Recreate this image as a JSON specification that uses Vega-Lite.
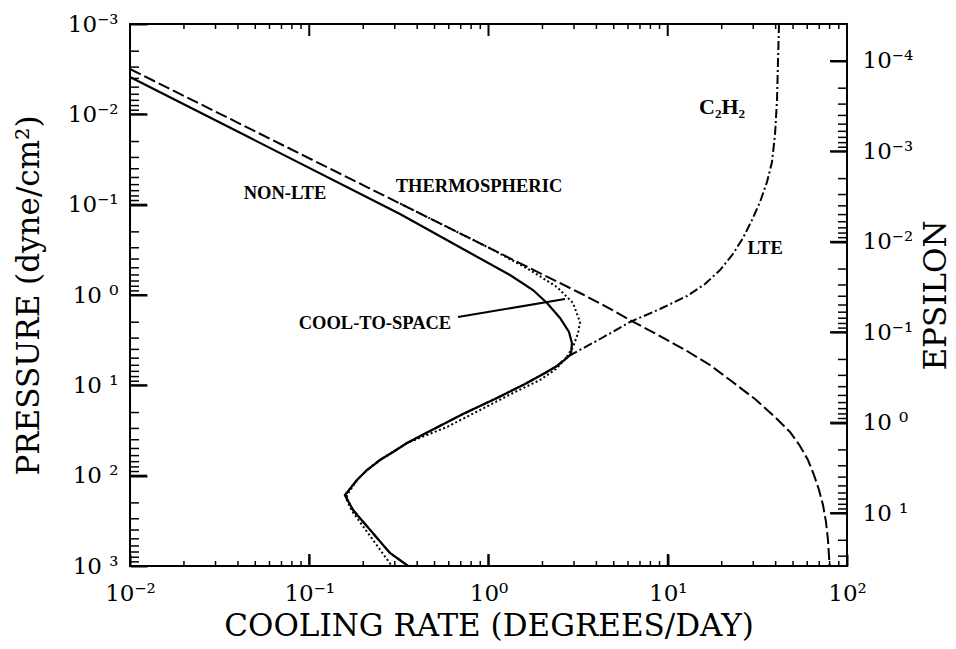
{
  "$schema": "https://vega.github.io/schema/vega-lite/v6.json",
  "width": 717,
  "height": 542,
  "autosize": {"type": "none"},
  "padding": {"left": 130, "top": 24, "right": 109, "bottom": 83},
  "background": "white",
  "config": {
    "view": {"stroke": "black", "strokeWidth": 2},
    "axis": {
      "zindex": 1,
      "labelFont": "DejaVu Serif", "labelFontSize": 23, "labelColor": "black",
      "titleFont": "DejaVu Serif", "titleFontSize": 31, "titleFontWeight": "normal", "titleColor": "black",
      "tickColor": "black", "tickOpacity": 1, "domain": false, "grid": false,
      "labelOverlap": false, "labelFlush": false, "labelBound": false
    }
  },
  "datasets": {
    "thermo": [
      {"x": 0.01, "p": 0.00315}, {"x": 0.0888, "p": 0.0273}, {"x": 1.159, "p": 0.3454},
      {"x": 3.24, "p": 0.9506}, {"x": 4.466, "p": 1.324}, {"x": 6.156, "p": 1.892},
      {"x": 8.822, "p": 2.773}, {"x": 12.81, "p": 4.17}, {"x": 17.2, "p": 5.958},
      {"x": 22.25, "p": 8.734}, {"x": 30.68, "p": 14.17}, {"x": 40.7, "p": 23.6},
      {"x": 48.08, "p": 32.87}, {"x": 54.67, "p": 46.96}, {"x": 60.59, "p": 67.09},
      {"x": 65.44, "p": 98.35}, {"x": 69.81, "p": 144.2}, {"x": 73.48, "p": 211.3},
      {"x": 76.36, "p": 326.0}, {"x": 78.34, "p": 515.8}, {"x": 79.36, "p": 775.1},
      {"x": 79.9, "p": 1000}
    ],
    "nonlte": [
      {"x": 0.01, "p": 0.00386}, {"x": 0.0467, "p": 0.0182}, {"x": 0.3208, "p": 0.1269},
      {"x": 0.7207, "p": 0.3097}, {"x": 1.318, "p": 0.6009}, {"x": 1.771, "p": 0.881},
      {"x": 2.12, "p": 1.227}, {"x": 2.506, "p": 1.798}, {"x": 2.812, "p": 2.569},
      {"x": 2.92, "p": 3.4}, {"x": 2.886, "p": 4.51}, {"x": 2.74, "p": 4.98},
      {"x": 2.41, "p": 6.11}, {"x": 2.066, "p": 7.31}, {"x": 1.598, "p": 9.67},
      {"x": 1.115, "p": 13.81}, {"x": 0.7206, "p": 20.8}, {"x": 0.4718, "p": 32.0},
      {"x": 0.351, "p": 43.5}, {"x": 0.2932, "p": 54.7}, {"x": 0.2481, "p": 67.1},
      {"x": 0.21, "p": 86.6}, {"x": 0.1846, "p": 111.7}, {"x": 0.1582, "p": 163.7},
      {"x": 0.1754, "p": 240}, {"x": 0.282, "p": 718}, {"x": 0.356, "p": 1000}
    ],
    "cts": [
      {"x": 0.321, "p": 0.0971}, {"x": 1.019, "p": 0.304}, {"x": 1.704, "p": 0.529},
      {"x": 2.41, "p": 0.816}, {"x": 2.96, "p": 1.227}, {"x": 3.24, "p": 1.99},
      {"x": 3.16, "p": 2.64}, {"x": 2.96, "p": 3.77}, {"x": 2.706, "p": 4.98},
      {"x": 2.38, "p": 6.6}, {"x": 1.938, "p": 8.73}, {"x": 1.37, "p": 12.16},
      {"x": 0.8966, "p": 18.76}, {"x": 0.5869, "p": 28.9}, {"x": 0.351, "p": 43.5},
      {"x": 0.2932, "p": 54.7}, {"x": 0.2481, "p": 67.1}, {"x": 0.21, "p": 86.6},
      {"x": 0.1846, "p": 111.7}, {"x": 0.1624, "p": 164}, {"x": 0.162, "p": 186},
      {"x": 0.173, "p": 246}, {"x": 0.289, "p": 1000}
    ],
    "lte": [
      {"x": 41.76, "p": 0.001}, {"x": 41.23, "p": 0.002504}, {"x": 40.7, "p": 0.00694},
      {"x": 39.65, "p": 0.01694}, {"x": 38.15, "p": 0.0337}, {"x": 35.78, "p": 0.0561},
      {"x": 32.71, "p": 0.0935}, {"x": 29.51, "p": 0.1478}, {"x": 26.29, "p": 0.2339},
      {"x": 23.12, "p": 0.3517}, {"x": 19.57, "p": 0.529}, {"x": 16.14, "p": 0.7555},
      {"x": 12.81, "p": 1.026}, {"x": 9.05, "p": 1.429}, {"x": 6.156, "p": 1.991},
      {"x": 4.19, "p": 3.07}, {"x": 2.74, "p": 4.86}, {"x": 2.41, "p": 6.11},
      {"x": 2.066, "p": 7.31}, {"x": 1.598, "p": 9.67}, {"x": 1.115, "p": 13.81},
      {"x": 0.7206, "p": 20.8}, {"x": 0.4718, "p": 32.0}, {"x": 0.351, "p": 43.5},
      {"x": 0.2932, "p": 54.7}, {"x": 0.2481, "p": 67.1}, {"x": 0.21, "p": 86.6},
      {"x": 0.1846, "p": 111.7}, {"x": 0.1582, "p": 163.7}, {"x": 0.1754, "p": 240},
      {"x": 0.282, "p": 718}, {"x": 0.356, "p": 1000}
    ],
    "leader": [
      {"x": 0.676, "p": 1.753}, {"x": 2.672, "p": 1.108}
    ],
    "labels": [
      {"x": 0.0732, "p": 0.0743, "t": "NON-LTE"},
      {"x": 0.885, "p": 0.0621, "t": "THERMOSPHERIC"},
      {"x": 0.2326, "p": 2.04, "t": "COOL-TO-SPACE"},
      {"x": 34.9, "p": 0.302, "t": "LTE"}
    ],
    "species": [
      {"x": 20.1, "p": 0.0083, "t": "C₂H₂"}
    ],
    "eps": [{"eps": 0.0001}, {"eps": 10}],
    "xt": [
      {"v": 0.01, "major": true}, {"v": 0.02, "major": false}, {"v": 0.03, "major": false}, {"v": 0.04, "major": false}, {"v": 0.05, "major": false}, {"v": 0.06, "major": false}, {"v": 0.07, "major": false}, {"v": 0.08, "major": false}, {"v": 0.09, "major": false},
      {"v": 0.1, "major": true}, {"v": 0.2, "major": false}, {"v": 0.3, "major": false}, {"v": 0.4, "major": false}, {"v": 0.5, "major": false}, {"v": 0.6, "major": false}, {"v": 0.7, "major": false}, {"v": 0.8, "major": false}, {"v": 0.9, "major": false},
      {"v": 1, "major": true}, {"v": 2, "major": false}, {"v": 3, "major": false}, {"v": 4, "major": false}, {"v": 5, "major": false}, {"v": 6, "major": false}, {"v": 7, "major": false}, {"v": 8, "major": false}, {"v": 9, "major": false},
      {"v": 10, "major": true}, {"v": 20, "major": false}, {"v": 30, "major": false}, {"v": 40, "major": false}, {"v": 50, "major": false}, {"v": 60, "major": false}, {"v": 70, "major": false}, {"v": 80, "major": false}, {"v": 90, "major": false},
      {"v": 100, "major": true}
    ],
    "yt": [
      {"v": 0.001, "major": true}, {"v": 0.002, "major": false}, {"v": 0.003, "major": false}, {"v": 0.004, "major": false}, {"v": 0.005, "major": false}, {"v": 0.006, "major": false}, {"v": 0.007, "major": false}, {"v": 0.008, "major": false}, {"v": 0.009, "major": false},
      {"v": 0.01, "major": true}, {"v": 0.02, "major": false}, {"v": 0.03, "major": false}, {"v": 0.04, "major": false}, {"v": 0.05, "major": false}, {"v": 0.06, "major": false}, {"v": 0.07, "major": false}, {"v": 0.08, "major": false}, {"v": 0.09, "major": false},
      {"v": 0.1, "major": true}, {"v": 0.2, "major": false}, {"v": 0.3, "major": false}, {"v": 0.4, "major": false}, {"v": 0.5, "major": false}, {"v": 0.6, "major": false}, {"v": 0.7, "major": false}, {"v": 0.8, "major": false}, {"v": 0.9, "major": false},
      {"v": 1, "major": true}, {"v": 2, "major": false}, {"v": 3, "major": false}, {"v": 4, "major": false}, {"v": 5, "major": false}, {"v": 6, "major": false}, {"v": 7, "major": false}, {"v": 8, "major": false}, {"v": 9, "major": false},
      {"v": 10, "major": true}, {"v": 20, "major": false}, {"v": 30, "major": false}, {"v": 40, "major": false}, {"v": 50, "major": false}, {"v": 60, "major": false}, {"v": 70, "major": false}, {"v": 80, "major": false}, {"v": 90, "major": false},
      {"v": 100, "major": true}, {"v": 200, "major": false}, {"v": 300, "major": false}, {"v": 400, "major": false}, {"v": 500, "major": false}, {"v": 600, "major": false}, {"v": 700, "major": false}, {"v": 800, "major": false}, {"v": 900, "major": false},
      {"v": 1000, "major": true}
    ],
    "et": [
      {"v": 0.0001, "major": true}, {"v": 0.0002, "major": false}, {"v": 0.0003, "major": false}, {"v": 0.0004, "major": false}, {"v": 0.0005, "major": false}, {"v": 0.0006, "major": false}, {"v": 0.0007, "major": false}, {"v": 0.0008, "major": false}, {"v": 0.0009, "major": false},
      {"v": 0.001, "major": true}, {"v": 0.002, "major": false}, {"v": 0.003, "major": false}, {"v": 0.004, "major": false}, {"v": 0.005, "major": false}, {"v": 0.006, "major": false}, {"v": 0.007, "major": false}, {"v": 0.008, "major": false}, {"v": 0.009, "major": false},
      {"v": 0.01, "major": true}, {"v": 0.02, "major": false}, {"v": 0.03, "major": false}, {"v": 0.04, "major": false}, {"v": 0.05, "major": false}, {"v": 0.06, "major": false}, {"v": 0.07, "major": false}, {"v": 0.08, "major": false}, {"v": 0.09, "major": false},
      {"v": 0.1, "major": true}, {"v": 0.2, "major": false}, {"v": 0.3, "major": false}, {"v": 0.4, "major": false}, {"v": 0.5, "major": false}, {"v": 0.6, "major": false}, {"v": 0.7, "major": false}, {"v": 0.8, "major": false}, {"v": 0.9, "major": false},
      {"v": 1, "major": true}, {"v": 2, "major": false}, {"v": 3, "major": false}, {"v": 4, "major": false}, {"v": 5, "major": false}, {"v": 6, "major": false}, {"v": 7, "major": false}, {"v": 8, "major": false}, {"v": 9, "major": false},
      {"v": 10, "major": true}, {"v": 20, "major": false}, {"v": 30, "major": false}
    ]
  },
  "resolve": {
    "scale": {"x": "independent", "y": "independent"},
    "axis": {"x": "independent", "y": "independent"}
  },
  "layer": [
    {
      "data": {"name": "thermo"},
      "mark": {"type": "line", "color": "black", "strokeWidth": 2, "strokeDash": [12, 4], "clip": true},
      "encoding": {
        "x": {"field": "x", "type": "quantitative",
          "scale": {"type": "log", "domain": [0.01, 100], "nice": false},
          "axis": {"orient": "bottom", "values": [0.01, 0.1, 1, 10, 100], "ticks": true, "offset": -12, "tickSize": 12, "tickWidth": 2, "labelPadding": 16,
            "labelExpr": "datum.value < 0.05 ? '10⁻²' : datum.value < 0.5 ? '10⁻¹' : datum.value < 5 ? '10⁰' : datum.value < 50 ? '10¹' : '10²'",
            "title": "COOLING RATE (DEGREES/DAY)", "titlePadding": 6}},
        "y": {"field": "p", "type": "quantitative",
          "scale": {"type": "log", "domain": [0.001, 1000], "nice": false, "reverse": true},
          "axis": {"orient": "left", "values": [0.001, 0.01, 0.1, 1, 10, 100, 1000], "ticks": true, "offset": -17, "tickSize": 17, "tickWidth": 2, "labelPadding": 12,
            "labelExpr": "datum.value < 0.005 ? '10⁻³' : datum.value < 0.05 ? '10⁻²' : datum.value < 0.5 ? '10⁻¹' : datum.value < 5 ? '10 ⁰' : datum.value < 50 ? '10 ¹' : datum.value < 500 ? '10 ²' : '10 ³'",
            "title": "PRESSURE (dyne/cm²)", "titlePadding": 22}},
        "order": {"field": "p", "type": "quantitative"}
      }
    },
    {
      "data": {"name": "nonlte"},
      "mark": {"type": "line", "color": "black", "strokeWidth": 2.2, "clip": true},
      "encoding": {
        "x": {"field": "x", "type": "quantitative",
          "scale": {"type": "log", "domain": [0.01, 100], "nice": false}, "axis": null},
        "y": {"field": "p", "type": "quantitative",
          "scale": {"type": "log", "domain": [0.001, 1000], "nice": false, "reverse": true}, "axis": null},
        "order": {"field": "p", "type": "quantitative"}
      }
    },
    {
      "data": {"name": "cts"},
      "mark": {"type": "line", "color": "black", "strokeWidth": 2, "strokeDash": [2, 2.5], "clip": true},
      "encoding": {
        "x": {"field": "x", "type": "quantitative",
          "scale": {"type": "log", "domain": [0.01, 100], "nice": false}, "axis": null},
        "y": {"field": "p", "type": "quantitative",
          "scale": {"type": "log", "domain": [0.001, 1000], "nice": false, "reverse": true}, "axis": null},
        "order": {"field": "p", "type": "quantitative"}
      }
    },
    {
      "data": {"name": "lte"},
      "mark": {"type": "line", "color": "black", "strokeWidth": 2, "strokeDash": [9, 3, 2, 3], "clip": true},
      "encoding": {
        "x": {"field": "x", "type": "quantitative",
          "scale": {"type": "log", "domain": [0.01, 100], "nice": false}, "axis": null},
        "y": {"field": "p", "type": "quantitative",
          "scale": {"type": "log", "domain": [0.001, 1000], "nice": false, "reverse": true}, "axis": null},
        "order": {"field": "p", "type": "quantitative"}
      }
    },
    {
      "data": {"name": "leader"},
      "mark": {"type": "line", "color": "black", "strokeWidth": 2, "clip": true},
      "encoding": {
        "x": {"field": "x", "type": "quantitative",
          "scale": {"type": "log", "domain": [0.01, 100], "nice": false}, "axis": null},
        "y": {"field": "p", "type": "quantitative",
          "scale": {"type": "log", "domain": [0.001, 1000], "nice": false, "reverse": true}, "axis": null}
      }
    },
    {
      "data": {"name": "labels"},
      "mark": {"type": "text", "font": "Liberation Serif", "fontWeight": "bold", "fontSize": 18.5, "color": "black", "align": "center", "baseline": "middle"},
      "encoding": {
        "x": {"field": "x", "type": "quantitative",
          "scale": {"type": "log", "domain": [0.01, 100], "nice": false}, "axis": null},
        "y": {"field": "p", "type": "quantitative",
          "scale": {"type": "log", "domain": [0.001, 1000], "nice": false, "reverse": true}, "axis": null},
        "text": {"field": "t"}
      }
    },
    {
      "data": {"name": "species"},
      "mark": {"type": "text", "font": "Liberation Serif", "fontWeight": "bold", "fontSize": 22, "color": "black", "align": "center", "baseline": "middle"},
      "encoding": {
        "x": {"field": "x", "type": "quantitative",
          "scale": {"type": "log", "domain": [0.01, 100], "nice": false}, "axis": null},
        "y": {"field": "p", "type": "quantitative",
          "scale": {"type": "log", "domain": [0.001, 1000], "nice": false, "reverse": true}, "axis": null},
        "text": {"field": "t"}
      }
    },
    {
      "data": {"name": "xt"},
      "transform": [{"filter": "datum.major"}],
      "mark": {"type": "rule", "color": "black", "strokeWidth": 2, "opacity": 1, "strokeOpacity": 1},
      "encoding": {
        "x": {"field": "v", "type": "quantitative", "scale": {"type": "log", "domain": [0.01, 100], "nice": false}, "axis": null},
        "y": {"datum": 1000, "type": "quantitative", "scale": {"type": "log", "domain": [0.001, 1000], "nice": false, "reverse": true}, "axis": null},
        "y2": {"datum": 736.5}
      }
    },
    {
      "data": {"name": "xt"},
      "transform": [{"filter": "!datum.major"}],
      "mark": {"type": "rule", "color": "black", "strokeWidth": 1.5, "opacity": 1, "strokeOpacity": 1},
      "encoding": {
        "x": {"field": "v", "type": "quantitative", "scale": {"type": "log", "domain": [0.01, 100], "nice": false}, "axis": null},
        "y": {"datum": 1000, "type": "quantitative", "scale": {"type": "log", "domain": [0.001, 1000], "nice": false, "reverse": true}, "axis": null},
        "y2": {"datum": 880.5}
      }
    },
    {
      "data": {"name": "xt"},
      "transform": [{"filter": "datum.major"}],
      "mark": {"type": "rule", "color": "black", "strokeWidth": 2, "opacity": 1, "strokeOpacity": 1},
      "encoding": {
        "x": {"field": "v", "type": "quantitative", "scale": {"type": "log", "domain": [0.01, 100], "nice": false}, "axis": null},
        "y": {"datum": 0.001, "type": "quantitative", "scale": {"type": "log", "domain": [0.001, 1000], "nice": false, "reverse": true}, "axis": null},
        "y2": {"datum": 0.001358}
      }
    },
    {
      "data": {"name": "xt"},
      "transform": [{"filter": "!datum.major"}],
      "mark": {"type": "rule", "color": "black", "strokeWidth": 1.5, "opacity": 1, "strokeOpacity": 1},
      "encoding": {
        "x": {"field": "v", "type": "quantitative", "scale": {"type": "log", "domain": [0.01, 100], "nice": false}, "axis": null},
        "y": {"datum": 0.001, "type": "quantitative", "scale": {"type": "log", "domain": [0.001, 1000], "nice": false, "reverse": true}, "axis": null},
        "y2": {"datum": 0.001136}
      }
    },
    {
      "data": {"name": "yt"},
      "transform": [{"filter": "datum.major"}],
      "mark": {"type": "rule", "color": "black", "strokeWidth": 2, "opacity": 1, "strokeOpacity": 1},
      "encoding": {
        "y": {"field": "v", "type": "quantitative", "scale": {"type": "log", "domain": [0.001, 1000], "nice": false, "reverse": true}, "axis": null},
        "x": {"datum": 0.01, "type": "quantitative", "scale": {"type": "log", "domain": [0.01, 100], "nice": false}, "axis": null},
        "x2": {"datum": 0.01244}
      }
    },
    {
      "data": {"name": "yt"},
      "transform": [{"filter": "!datum.major"}],
      "mark": {"type": "rule", "color": "black", "strokeWidth": 1.5, "opacity": 1, "strokeOpacity": 1},
      "encoding": {
        "y": {"field": "v", "type": "quantitative", "scale": {"type": "log", "domain": [0.001, 1000], "nice": false, "reverse": true}, "axis": null},
        "x": {"datum": 0.01, "type": "quantitative", "scale": {"type": "log", "domain": [0.01, 100], "nice": false}, "axis": null},
        "x2": {"datum": 0.01123}
      }
    },
    {
      "data": {"name": "et"},
      "transform": [{"filter": "datum.major"}],
      "mark": {"type": "rule", "color": "black", "strokeWidth": 2, "opacity": 1, "strokeOpacity": 1},
      "encoding": {
        "y": {"field": "v", "type": "quantitative", "scale": {"type": "log", "domain": [0.000039, 38.5], "nice": false, "reverse": true}, "axis": null},
        "x": {"datum": 100, "type": "quantitative", "scale": {"type": "log", "domain": [0.01, 100], "nice": false}, "axis": null},
        "x2": {"datum": 80.41}
      }
    },
    {
      "data": {"name": "et"},
      "transform": [{"filter": "!datum.major"}],
      "mark": {"type": "rule", "color": "black", "strokeWidth": 1.5, "opacity": 1, "strokeOpacity": 1},
      "encoding": {
        "y": {"field": "v", "type": "quantitative", "scale": {"type": "log", "domain": [0.000039, 38.5], "nice": false, "reverse": true}, "axis": null},
        "x": {"datum": 100, "type": "quantitative", "scale": {"type": "log", "domain": [0.01, 100], "nice": false}, "axis": null},
        "x2": {"datum": 89.08}
      }
    },
    {
      "data": {"name": "eps"},
      "mark": {"type": "point", "opacity": 0},
      "encoding": {
        "y": {"field": "eps", "type": "quantitative",
          "scale": {"type": "log", "domain": [0.000039, 38.5], "nice": false, "reverse": true},
          "axis": {"orient": "right", "values": [0.0001, 0.001, 0.01, 0.1, 1, 10], "ticks": true, "offset": -17, "tickSize": 17, "tickWidth": 2, "labelPadding": 15,
            "labelExpr": "datum.value < 0.0005 ? '10⁻⁴' : datum.value < 0.005 ? '10⁻³' : datum.value < 0.05 ? '10⁻²' : datum.value < 0.5 ? '10⁻¹' : datum.value < 5 ? '10 ⁰' : '10 ¹'",
            "title": "EPSILON", "titleAngle": -90, "titleBaseline": "top", "titlePadding": 9}}
      }
    }
  ]
}
